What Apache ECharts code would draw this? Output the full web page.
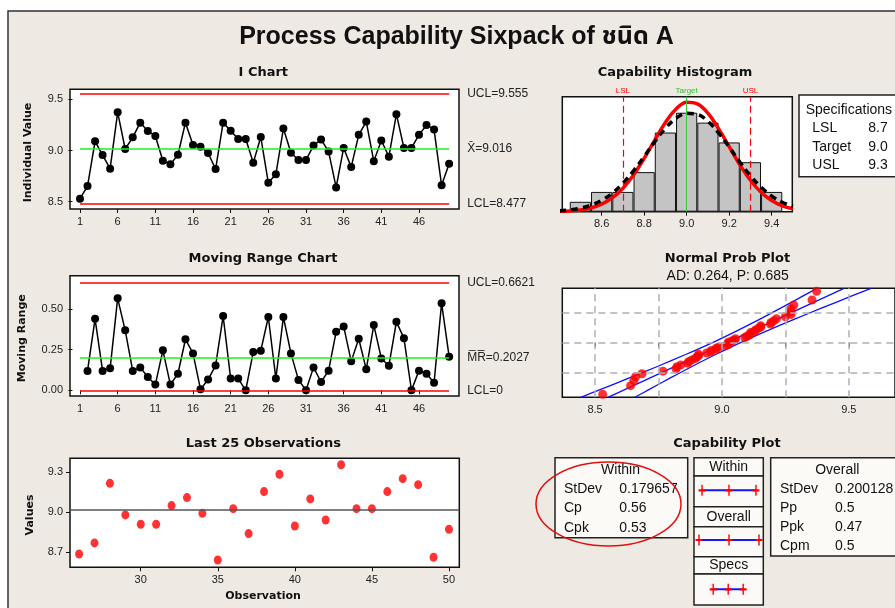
<!DOCTYPE html>
<html><head><meta charset="utf-8">
<script src="https://cdn.jsdelivr.net/npm/echarts@6/dist/echarts.min.js"></script>
<style>html,body{margin:0;padding:0;background:#fff}#c{width:895px;height:608px}</style>
</head><body><div id="c"></div>
<script>
// ---------------- DATA ----------------
const iValues = [8.53, 8.653, 9.09, 8.956, 8.823, 9.373, 9.015, 9.129, 9.272, 9.191,
  9.142, 8.901, 8.865, 8.959, 9.272, 9.054, 9.038, 8.976, 8.819, 9.272,
  9.194, 9.113, 9.113, 8.881, 9.132, 8.685, 8.768, 9.215, 8.978, 8.908,
  8.908, 9.048, 9.108, 8.99, 8.64, 9.025, 8.838, 9.153, 9.283, 8.895,
  9.098, 8.94, 9.355, 9.025, 9.025, 9.153, 9.25, 9.205, 8.66, 8.87];
// moving ranges for observations 2..50
const mrValues = [0.119, 0.44, 0.119, 0.135, 0.566, 0.369, 0.119, 0.141, 0.082, 0.035,
  0.246, 0.035, 0.102, 0.314, 0.227, 0.006, 0.066, 0.152, 0.457, 0.072,
  0.072, 0.0, 0.236, 0.244, 0.451, 0.072, 0.451, 0.227, 0.064, 0.0,
  0.141, 0.051, 0.121, 0.36, 0.393, 0.178, 0.317, 0.129, 0.401, 0.196,
  0.151, 0.421, 0.321, 0.0, 0.121, 0.102, 0.047, 0.536, 0.207];
const iLimitNames = ['UCL', 'X\u0304', 'LCL'];
const iLimitValues = [9.555, 9.016, 8.477];
const mrLimitNames = ['UCL', 'M\u0305R\u0305', 'LCL'];
const mrLimitValues = [0.6621, 0.2027, 0];
const processMean = 9.016;

const histBins = [8.5, 8.6, 8.7, 8.8, 8.9, 9.0, 9.1, 9.2, 9.3, 9.4];
const histCounts = [1, 2, 2, 4, 8, 10, 9, 7, 5, 2];
const curveX = [8.40, 8.45, 8.50, 8.55, 8.60, 8.65, 8.70, 8.75, 8.80, 8.85, 8.90, 8.95,
  9.00, 9.05, 9.10, 9.15, 9.20, 9.25, 9.30, 9.35, 9.40, 9.45, 9.50];
const withinCurve = [0.03, 0.08, 0.18, 0.38, 0.76, 1.39, 2.36, 3.71, 5.39, 7.24, 9.01, 10.37,
  11.06, 10.90, 9.95, 8.40, 6.57, 4.75, 3.18, 1.97, 1.13, 0.60, 0.29];
const overallCurve = [0.09, 0.18, 0.36, 0.66, 1.15, 1.87, 2.87, 4.12, 5.57, 7.07, 8.43, 9.44,
  9.94, 9.83, 9.13, 7.97, 6.53, 5.03, 3.64, 2.48, 1.58, 0.95, 0.54];
const specLabels = ['LSL', 'Target', 'USL'];
const specValues = [8.7, 9.0, 9.3];

const bandZ = [-2.326, -2, -1.5, -1, -0.5, 0, 0.5, 1, 1.5, 2, 2.326];
const bandLeft = [8.444, 8.520, 8.635, 8.748, 8.857, 8.961, 9.057, 9.148, 9.235, 9.320, 9.375];
const bandRight = [8.657, 8.712, 8.797, 8.884, 8.975, 9.071, 9.175, 9.284, 9.397, 9.512, 9.588];
const fitX = [8.551, 9.481];
const fitZ = [-2.326, 2.326];
const probGridZ = [-1.2816, 0, 1.2816];

const capWithin = [8.477, 9.016, 9.555];
const capOverall = [8.416, 9.016, 9.616];
const capSpecs = [8.7, 9.0, 9.3];
const withinStatNames = ['StDev', 'Cp', 'Cpk'];
const withinStatValues = ['0.179657', '0.56', '0.53'];
const overallStatNames = ['StDev', 'Pp', 'Ppk', 'Cpm'];
const overallStatValues = ['0.200128', '0.5', '0.47', '0.5'];

const iTicksX = [1, 6, 11, 16, 21, 26, 31, 36, 41, 46];
const iTicksY = [8.5, 9.0, 9.5];
const mrTicksY = [0, 0.25, 0.5];
const lastTicksX = [30, 35, 40, 45, 50];
const lastTicksY = [8.7, 9.0, 9.3];
const histTicksX = [8.6, 8.8, 9.0, 9.2, 9.4];
const probTicksX = [8.5, 8.75, 9.0, 9.25, 9.5];
const probLabelsX = [8.5, 9.0, 9.5];

// ---------------- CHART ----------------
const F = '"Liberation Sans", Arial, "Noto Sans Thai", "Noto Sans", sans-serif';
const FB = '"DejaVu Sans", "Liberation Sans", sans-serif';
const chart = echarts.init(document.getElementById('c'));

function qnorm(p) {
  const q = p < 0.5 ? p : 1 - p;
  const t = Math.sqrt(-2 * Math.log(q));
  const z = t - (2.515517 + 0.802853 * t + 0.010328 * t * t) / (1 + 1.432788 * t + 0.189269 * t * t + 0.001308 * t * t * t);
  return p < 0.5 ? -z : z;
}

function ax(grid, min, max, ticks, labels, fmt) {
  return {
    type: 'value', gridIndex: grid, min: min, max: max, splitLine: {show: false},
    axisLine: {show: false},
    axisTick: {show: true, customValues: ticks, length: 4, lineStyle: {color: '#111', width: 1}},
    axisLabel: {customValues: labels, formatter: fmt, fontSize: 11, color: '#222', fontFamily: F, margin: 7}
  };
}
function hidden(grid, min, max) {
  return {type: 'value', gridIndex: grid, min: min, max: max, show: false, splitLine: {show: false}};
}
const f1 = v => v.toFixed(1), f2 = v => v.toFixed(2), f0 = v => String(Math.round(v));

const gridStyle = {show: true, backgroundColor: '#fff', borderColor: '#111', borderWidth: 1.5};
const grids = [
  Object.assign({left: 70, top: 89.3, width: 389, height: 119.7}, gridStyle),
  Object.assign({left: 70, top: 275.7, width: 389, height: 120.3}, gridStyle),
  Object.assign({left: 70, top: 458.3, width: 389.3, height: 109}, gridStyle),
  Object.assign({left: 562.3, top: 96.7, width: 230, height: 115}, gridStyle),
  Object.assign({left: 562.3, top: 288.3, width: 340, height: 109}, gridStyle),
  {left: 694, top: 485.3, width: 69.3, height: 10},
  {left: 694, top: 535, width: 69.3, height: 10},
  {left: 694, top: 584.3, width: 69.3, height: 10}
];

const xAxes = [
  ax(0, -0.327, 51.31, iTicksX, iTicksX, f0),
  ax(1, -0.327, 51.31, iTicksX, iTicksX, f0),
  ax(2, 25.41, 50.67, lastTicksX, lastTicksX, f0),
  ax(3, 8.415, 9.497, histTicksX, histTicksX, f1),
  ax(4, 8.371, 9.682, probTicksX, probLabelsX, f1),
  hidden(5, 8.316, 9.702), hidden(6, 8.316, 9.702), hidden(7, 8.316, 9.702)
];
const yAxes = [
  ax(0, 8.429, 9.598, iTicksY, iTicksY, f1),
  ax(1, -0.035, 0.705, mrTicksY, mrTicksY, f2),
  ax(2, 8.585, 9.403, lastTicksY, lastTicksY, f1),
  hidden(3, 0, 11.62),
  hidden(4, -2.326, 2.326),
  hidden(5, 0, 1), hidden(6, 0, 1), hidden(7, 0, 1)
];

function limitPairs(names, values, colors) {
  return values.map((v, k) => [
    {coord: [1, v], lineStyle: {color: colors[k], width: 1.5, type: 'solid'},
     label: {formatter: names[k] + '=' + v}},
    {coord: [50, v]}
  ]);
}
const limitLabel = {show: true, position: 'end', distance: 18, color: '#222', fontSize: 12, fontFamily: F};

const sortedVals = iValues.slice().sort((a, b) => a - b);
const probPoints = sortedVals.map((v, i) => [v, qnorm((i + 1 - 0.3) / (sortedVals.length + 0.4))]);

const crossSym = 'path://M4,0 L6,0 L6,4 L10,4 L10,6 L6,6 L6,10 L4,10 L4,6 L0,6 L0,4 L4,4 Z';
function capLine(idx, vals) {
  return {type: 'line', xAxisIndex: idx, yAxisIndex: idx, data: vals.map(v => [v, 0.5]),
    symbol: crossSym, symbolSize: [7, 11], itemStyle: {color: '#f00'},
    lineStyle: {color: '#1515ff', width: 2}, z: 5, silent: true};
}

const series = [
  // I chart
  {type: 'line', xAxisIndex: 0, yAxisIndex: 0, data: [], z: 1, silent: true,
   markLine: {silent: true, symbol: ['none', 'none'], animation: false, label: limitLabel,
     data: limitPairs(iLimitNames, iLimitValues, ['#f00', '#22ee22', '#f00'])}},
  {type: 'line', xAxisIndex: 0, yAxisIndex: 0, data: iValues.map((v, i) => [i + 1, v]),
   symbol: 'circle', symbolSize: 8, itemStyle: {color: '#000'}, lineStyle: {color: '#000', width: 1.5}, z: 3},
  // MR chart
  {type: 'line', xAxisIndex: 1, yAxisIndex: 1, data: [], z: 1, silent: true,
   markLine: {silent: true, symbol: ['none', 'none'], animation: false, label: limitLabel,
     data: limitPairs(mrLimitNames, mrLimitValues, ['#f00', '#22ee22', '#f00'])}},
  {type: 'line', xAxisIndex: 1, yAxisIndex: 1, data: mrValues.map((v, i) => [i + 2, v]),
   symbol: 'circle', symbolSize: 8, itemStyle: {color: '#000'}, lineStyle: {color: '#000', width: 1.5}, z: 3},
  // Last 25
  {type: 'line', xAxisIndex: 2, yAxisIndex: 2, data: [], z: 1, silent: true,
   markLine: {silent: true, symbol: ['none', 'none'], animation: false, label: {show: false},
     lineStyle: {color: '#555', width: 1.5, type: 'solid'}, data: [{yAxis: processMean}]}},
  {type: 'scatter', xAxisIndex: 2, yAxisIndex: 2,
   data: iValues.slice(25).map((v, i) => [i + 26, v]),
   symbol: 'circle', symbolSize: [8, 9], itemStyle: {color: '#f00'}, z: 3},
  // Histogram
  {type: 'line', xAxisIndex: 3, yAxisIndex: 3, data: [], z: 1, silent: true,
   markLine: {silent: true, symbol: ['none', 'none'], animation: false,
     label: {show: true, position: 'end', formatter: '{b}', fontSize: 8, fontFamily: F, distance: 2},
     data: specValues.map((v, k) => ({
       xAxis: v, name: specLabels[k],
       lineStyle: k === 1 ? {color: '#33cc33', width: 1, type: 'solid'} : {color: '#f00', width: 1.2, type: [7, 4]},
       label: {color: k === 1 ? '#33bb33' : '#f00'}
     }))}},
  {type: 'bar', xAxisIndex: 3, yAxisIndex: 3, data: histBins.map((b, i) => [b, histCounts[i]]),
   barWidth: 21.2, itemStyle: {color: '#c4c4c4', borderColor: '#111', borderWidth: 1}, z: 2},
  {type: 'line', xAxisIndex: 3, yAxisIndex: 3, data: curveX.map((x, i) => [x, withinCurve[i]]),
   smooth: 0.4, showSymbol: false, lineStyle: {color: '#ff0000', width: 3.5}, z: 3},
  {type: 'line', xAxisIndex: 3, yAxisIndex: 3, data: curveX.map((x, i) => [x, overallCurve[i]]),
   smooth: 0.4, showSymbol: false, lineStyle: {color: '#000', width: 3.5, type: [7, 5]}, z: 4},
  // Normal prob plot
  {type: 'line', xAxisIndex: 4, yAxisIndex: 4, data: [], z: 1, silent: true,
   markLine: {silent: true, symbol: ['none', 'none'], animation: false, label: {show: false},
     lineStyle: {color: '#b0b0b0', width: 1.5, type: [7, 5]},
     data: probTicksX.map(v => ({xAxis: v})).concat(probGridZ.map(v => ({yAxis: v})))}},
  {type: 'line', xAxisIndex: 4, yAxisIndex: 4, data: bandZ.map((z, i) => [bandLeft[i], z]),
   smooth: 0.3, showSymbol: false, lineStyle: {color: '#1010ff', width: 1.3}, z: 2},
  {type: 'line', xAxisIndex: 4, yAxisIndex: 4, data: bandZ.map((z, i) => [bandRight[i], z]),
   smooth: 0.3, showSymbol: false, lineStyle: {color: '#1010ff', width: 1.3}, z: 2},
  {type: 'line', xAxisIndex: 4, yAxisIndex: 4, data: fitX.map((x, i) => [x, fitZ[i]]),
   showSymbol: false, lineStyle: {color: '#1010ff', width: 1.3}, z: 2},
  {type: 'scatter', xAxisIndex: 4, yAxisIndex: 4, data: probPoints,
   symbol: 'circle', symbolSize: 9, itemStyle: {color: '#f00'}, z: 3},
  // Capability plot
  capLine(5, capWithin), capLine(6, capOverall), capLine(7, capSpecs)
];

// ---------------- TEXT / FRAMES ----------------
function T(x, y, text, o) {
  const st = Object.assign({text: text, fill: '#111', fontSize: 14, fontFamily: F,
    align: 'left', textAlign: 'left', verticalAlign: 'middle', textVerticalAlign: 'middle'}, o || {});
  if (o && o.align) st.textAlign = o.align;
  return {type: 'text', x: x, y: y, z: 10, style: st};
}
function R(x, y, w, h, fill) {
  return {type: 'rect', z: -1, shape: {x: x, y: y, width: w, height: h},
    style: {fill: fill || '#fbfaf7', stroke: '#222', lineWidth: 1.5}};
}
const sub = {fontSize: 13, fontWeight: 'bold', fontFamily: FB, align: 'center'};
const G = [
  {type: 'rect', shape: {x: 0, y: 0, width: 895, height: 11}, style: {fill: '#fff'}},
  {type: 'rect', shape: {x: 0, y: 0, width: 8, height: 608}, style: {fill: '#fff'}},
  {type: 'polyline', shape: {points: [[8, 608], [8, 11], [895, 11]]}, style: {stroke: '#333', lineWidth: 1.5, fill: null}},
  T(456.5, 37, 'Process Capability Sixpack of ชนิด A', {fontSize: 25, fontWeight: 'bold', align: 'center'}),
  T(263.3, 72.7, 'I Chart', sub),
  T(263, 259, 'Moving Range Chart', sub),
  T(263.3, 444, 'Last 25 Observations', sub),
  T(675, 72.3, 'Capability Histogram', sub),
  T(727.5, 259, 'Normal Prob Plot', sub),
  T(727, 444, 'Capability Plot', sub),
  T(727.7, 275.7, 'AD: 0.264, P: 0.685', {align: 'center', fontSize: 14}),
  Object.assign(T(28.5, 152.5, 'Individual Value', {fontSize: 11, fontWeight: 'bold', fontFamily: FB, align: 'center'}), {rotation: Math.PI / 2}),
  Object.assign(T(22.5, 338.3, 'Moving Range', {fontSize: 11, fontWeight: 'bold', fontFamily: FB, align: 'center'}), {rotation: Math.PI / 2}),
  Object.assign(T(30, 515, 'Values', {fontSize: 11, fontWeight: 'bold', fontFamily: FB, align: 'center'}), {rotation: Math.PI / 2}),
  T(263, 596, 'Observation', {fontSize: 11, fontWeight: 'bold', fontFamily: FB, align: 'center'}),
  // specifications box
  R(799, 95, 110, 81.7, '#fff'),
  T(805.7, 110, 'Specifications'),
  // capability boxes
  R(555, 457.7, 132.7, 80),
  R(694, 457.7, 69.3, 18.3), R(694, 476, 69.3, 30.7),
  R(694, 506.7, 69.3, 20), R(694, 526.7, 69.3, 30),
  R(694, 556.7, 69.3, 17.3), R(694, 574, 69.3, 31),
  R(770.7, 457.7, 130, 98.3),
  T(620.5, 470, 'Within', {align: 'center'}),
  T(728.7, 466.7, 'Within', {align: 'center'}),
  T(728.7, 517.3, 'Overall', {align: 'center'}),
  T(728.7, 565, 'Specs', {align: 'center'}),
  T(837.3, 470, 'Overall', {align: 'center'}),
  {type: 'ellipse', z: 11, shape: {cx: 608.5, cy: 504, rx: 72.5, ry: 42},
   style: {fill: null, stroke: '#e01010', lineWidth: 1.5}}
];
const specRowY = [128.3, 146.7, 165];
specLabels.forEach((s, k) => { G.push(T(812.3, specRowY[k], s)); G.push(T(868.3, specRowY[k], specValues[k].toFixed(1))); });
const wRowY = [489.3, 508, 528.3];
withinStatNames.forEach((s, k) => { G.push(T(564, wRowY[k], s)); G.push(T(619.3, wRowY[k], withinStatValues[k])); });
const oRowY = [489, 508, 527, 546];
overallStatNames.forEach((s, k) => { G.push(T(780, oRowY[k], s)); G.push(T(835, oRowY[k], overallStatValues[k])); });

chart.setOption({
  animation: false,
  backgroundColor: '#eeeae3',
  grid: grids,
  xAxis: xAxes,
  yAxis: yAxes,
  series: series,
  graphic: {elements: G}
});
</script>
</body></html>
